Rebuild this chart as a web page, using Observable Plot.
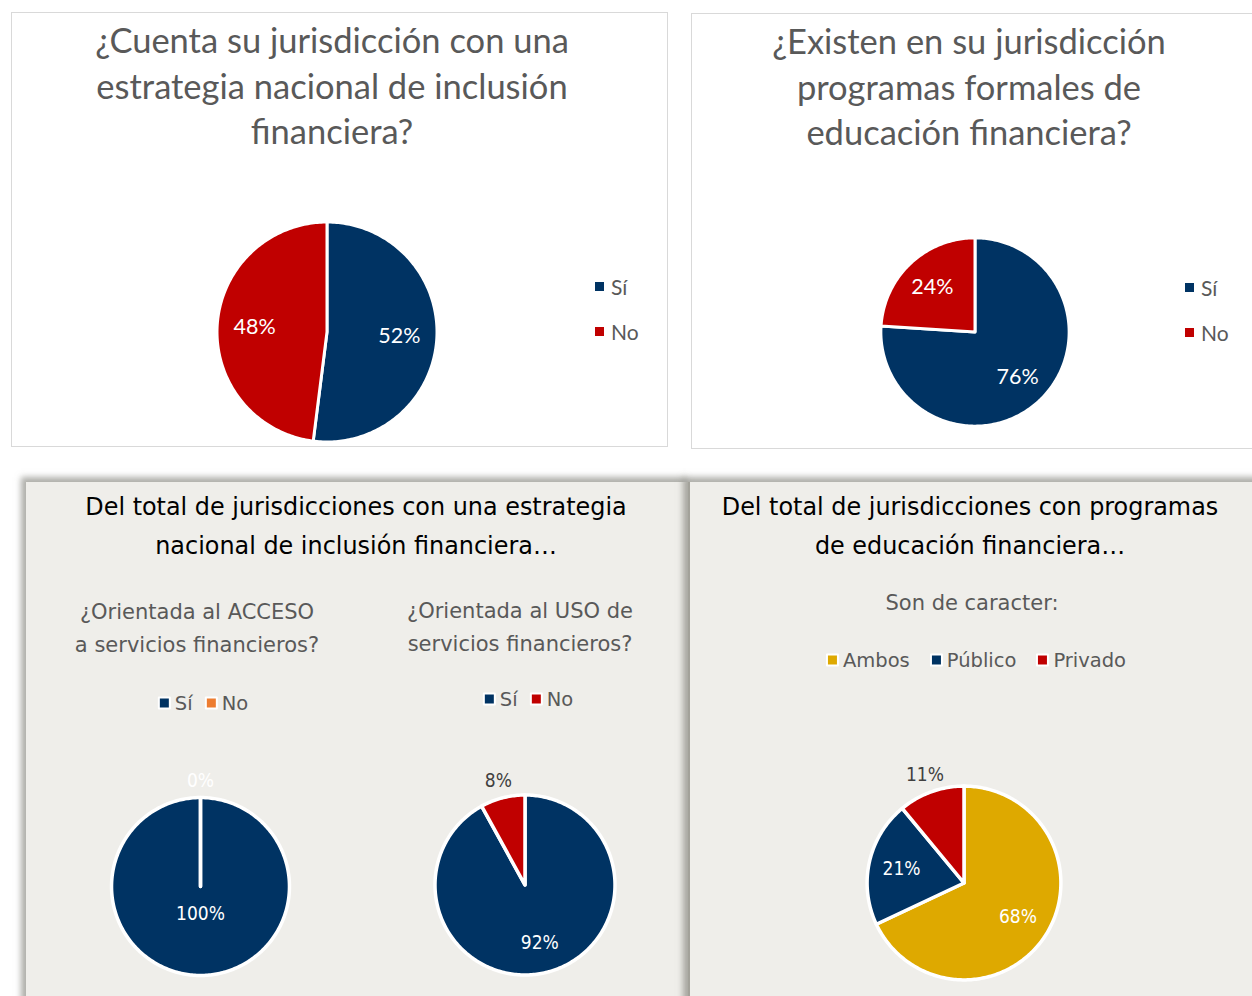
<!DOCTYPE html>
<html>
<head>
<meta charset="utf-8">
<script src="https://cdn.jsdelivr.net/npm/d3@7"></script>
<script src="https://cdn.jsdelivr.net/npm/@observablehq/plot@0.6"></script>
<style>
  body { margin: 0; background: #ffffff; }
  #page { position: relative; width: 1252px; height: 996px; overflow: hidden; background: #ffffff; }
  .panel { position: absolute; box-sizing: border-box; }
  .t { position: absolute; transform: translateX(-50%); white-space: nowrap; text-align: center; }
  .pie { position: absolute; }
  .legendV { position: absolute; font-family: Lato, sans-serif; font-size: 21px; color: #595959; }
  .legendV div { display: flex; align-items: center; height: 45px; }
  .legendV span.sw { display: inline-block; width: 9px; height: 9px; margin-right: 7px; }
  .legendH { position: absolute; transform: translate(-50%, -50%); display: flex; align-items: center;
             font-family: "DejaVu Sans", sans-serif; font-size: 19.5px; color: #595959; white-space: nowrap; }
  .legendH .item { display: flex; align-items: center; }
  .legendH span.box { display: inline-block; width: 9px; height: 9px; border: 2.5px solid #ffffff; background: #000; margin-right: 4px; border-radius: 1px; }
</style>
</head>
<body>
<div id="page"></div>
<script>
// ---------------- DATA ----------------
const yesNo = ["Sí", "No"];
const estrategiaValues = [52, 48];          // ¿Cuenta su jurisdicción con una estrategia...?
const programasValues = [76, 24];           // ¿Existen programas formales de educación financiera?
const accesoValues = [100, 0];              // ¿Orientada al ACCESO...?
const usoValues = [92, 8];                  // ¿Orientada al USO...?
const caracterCats = ["Ambos", "Público", "Privado"];
const caracterValues = [68, 21, 11];        // Son de caracter:

const titleEstrategia = ["¿Cuenta su jurisdicción con una", "estrategia nacional de inclusión", "financiera?"];
const titleProgramas = ["¿Existen en su jurisdicción", "programas formales de", "educación financiera?"];
const titleDelTotalEstrategia = ["Del total de jurisdicciones con una estrategia", "nacional de inclusión financiera…"];
const titleDelTotalProgramas = ["Del total de jurisdicciones con programas", "de educación financiera…"];
const subAcceso = ["¿Orientada al ACCESO", "a servicios financieros?"];
const subUso = ["¿Orientada al USO de", "servicios financieros?"];
const subCaracter = ["Son de caracter:"];

// ---------------- COLOURS ----------------
const BLUE = "#003363", RED = "#c00000", ORANGE = "#ed7d31", GOLD = "#dea900";
const colYesNoRed = [BLUE, RED];
const colYesNoOrange = [BLUE, ORANGE];
const colCaracter = [GOLD, BLUE, RED];

const page = document.getElementById("page");

function addPanel(style) {
  const d = document.createElement("div");
  d.className = "panel";
  Object.assign(d.style, style);
  page.appendChild(d);
  return d;
}
function addText(lines, cx, top, lh, font, color) {
  const d = document.createElement("div");
  d.className = "t";
  d.style.left = cx + "px";
  d.style.top = top + "px";
  d.style.font = font;
  d.style.lineHeight = lh + "px";
  d.style.color = color;
  d.innerHTML = lines.join("<br>");
  page.appendChild(d);
}
function addLegendV(cats, colors, left, top) {
  const d = document.createElement("div");
  d.className = "legendV";
  d.style.left = left + "px";
  d.style.top = top + "px";
  cats.forEach((c, i) => {
    const row = document.createElement("div");
    row.innerHTML = `<span class="sw" style="background:${colors[i]}"></span>${c}`;
    d.appendChild(row);
  });
  page.appendChild(d);
}
function addLegendH(cats, colors, cx, cy, gap) {
  const d = document.createElement("div");
  d.className = "legendH";
  d.style.left = cx + "px";
  d.style.top = cy + "px";
  d.style.gap = gap + "px";
  cats.forEach((c, i) => {
    const it = document.createElement("span");
    it.className = "item";
    it.innerHTML = `<span class="box" style="background:${colors[i]}"></span>${c}`;
    d.appendChild(it);
  });
  page.appendChild(d);
}

// Pie drawn with Plot: slices as closed filled lines computed from d3.pie of the data
function addPie(cats, values, colors, cx, cy, R, opts) {
  const ext = 1.45;
  const S = Math.round(2 * ext * R);
  const total = d3.sum(values);
  const arcs = d3.pie().sort(null).value(d => d)(values);
  const pts = [];
  arcs.forEach((a, i) => {
    const n = Math.max(2, Math.ceil((a.endAngle - a.startAngle) / (Math.PI / 180)));
    pts.push({k: cats[i], x: 0, y: 0});
    for (let j = 0; j <= n; j++) {
      const t = a.startAngle + (a.endAngle - a.startAngle) * j / n;
      pts.push({k: cats[i], x: Math.sin(t), y: Math.cos(t)});
    }
  });
  const labels = arcs.map((a, i) => {
    const mid = (a.startAngle + a.endAngle) / 2;
    const share = values[i] / total;
    const outside = share < 0.15;
    const r = share === 1 ? 0.31 : outside ? 1.19 : 0.66;
    return {x: Math.sin(mid) * r, y: Math.cos(mid) * r, text: values[i] + "%",
            dark: outside && values[i] > 0};
  });
  const chart = Plot.plot({
    width: S, height: S,
    margin: 0,
    x: {domain: [-ext, ext], axis: null},
    y: {domain: [-ext, ext], axis: null},
    color: {domain: cats, range: colors},
    style: {background: "transparent", overflow: "visible"},
    marks: [
      Plot.line(pts, {x: "x", y: "y", z: "k", fill: "k", stroke: "#ffffff",
        strokeWidth: opts.strokeWidth, strokeLinejoin: "round", curve: "linear-closed"}),
      Plot.text(labels.filter(d => !d.dark), {x: "x", y: "y", text: "text", fill: "#ffffff",
        fontFamily: opts.font, fontSize: opts.size}),
      Plot.text(labels.filter(d => d.dark), {x: "x", y: "y", text: "text", fill: "#404040",
        fontFamily: opts.font, fontSize: opts.size})
    ]
  });
  chart.classList.add("pie");
  chart.style.left = (cx - S / 2) + "px";
  chart.style.top = (cy - S / 2) + "px";
  page.appendChild(chart);
}

// ---------------- PANELS ----------------
addPanel({left: "11px", top: "12px", width: "657px", height: "435px", border: "1.5px solid #d9d9d9", background: "#fff"});
addPanel({left: "691px", top: "13px", width: "620px", height: "436px", border: "1.5px solid #d9d9d9", background: "#fff"});
addPanel({left: "26px", top: "482px", width: "663px", height: "560px", background: "#efeeea",
          boxShadow: "-4px -4px 6px 1px rgba(110,110,100,0.55)"});
addPanel({left: "688px", top: "482px", width: "620px", height: "560px", background: "#efeeea",
          borderLeft: "2px solid #a3a29a", boxShadow: "-4px -4px 6px 1px rgba(110,110,100,0.55)"});

const SANS = "'DejaVu Sans', sans-serif";
const SANSC = "'DejaVu Sans Condensed', sans-serif";

// ---------------- TOP-LEFT ----------------
addText(titleEstrategia, 332, 17, 45.5, "34.5px Lato, sans-serif", "#595959");
addPie(yesNo, estrategiaValues, colYesNoRed, 326, 331, 110, {font: "Lato, sans-serif", size: 21.5, strokeWidth: 3});
addLegendV(yesNo, colYesNoRed, 595, 264);

// ---------------- TOP-RIGHT ----------------
addText(titleProgramas, 969, 18, 45.5, "34.5px Lato, sans-serif", "#595959");
addPie(yesNo, programasValues, colYesNoRed, 974, 331, 94, {font: "Lato, sans-serif", size: 21.5, strokeWidth: 3});
addLegendV(yesNo, colYesNoRed, 1185, 265);

// ---------------- BOTTOM-LEFT ----------------
addText(titleDelTotalEstrategia, 356, 488, 39, "23.9px " + SANS, "#000000");
addText(subAcceso, 197, 596, 33, "21px " + SANS, "#595959");
addText(subUso, 520, 595, 33, "21px " + SANS, "#595959");
addLegendH(yesNo, colYesNoOrange, 203, 703, 12);
addLegendH(yesNo, colYesNoRed, 528, 699, 12);
addPie(yesNo, accesoValues, colYesNoOrange, 200, 886, 89, {font: SANSC, size: 19, strokeWidth: 3.5});
addPie(yesNo, usoValues, colYesNoRed, 524, 884, 90, {font: SANSC, size: 19, strokeWidth: 3.5});

// ---------------- BOTTOM-RIGHT ----------------
addText(titleDelTotalProgramas, 970, 488, 39, "23.9px " + SANS, "#000000");
addText(subCaracter, 972, 587, 33, "21px " + SANS, "#595959");
addLegendH(caracterCats, colCaracter, 976, 660, 20);
addPie(caracterCats, caracterValues, colCaracter, 963, 882, 97, {font: SANSC, size: 19, strokeWidth: 3.5});
</script>
</body>
</html>
